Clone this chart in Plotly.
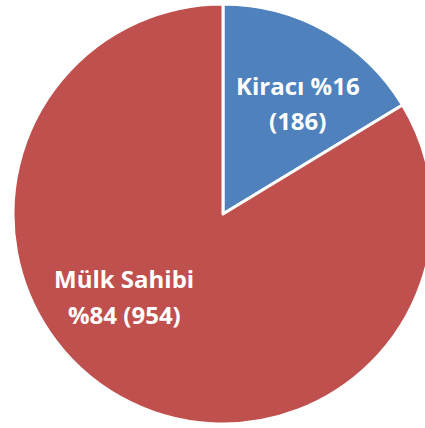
import plotly.graph_objects as go

# Housing tenure counts
labels = ["Kiracı", "Mülk Sahibi"]
values = [186, 954]
colors = ["#4F81BD", "#C0504D"]

total = sum(values)
pcts = [round(v / total * 100) for v in values]

W, H = 436, 428

fig = go.Figure(
    go.Pie(
        labels=labels,
        values=values,
        sort=False,
        direction="clockwise",
        rotation=0,
        marker=dict(colors=colors, line=dict(color="white", width=3)),
        textinfo="none",
        hoverinfo="label+value+percent",
        domain=dict(x=[13 / W, 433 / W], y=[4 / H, 424 / H]),
        showlegend=False,
    )
)

label_font = dict(family="Open Sans", size=24, color="white", weight="bold")

# slice labels, one annotation per line (x, y in pixels from top-left)
label_lines = [
    (f"{labels[0]} %{pcts[0]}", 298, 85),
    (f"({values[0]})", 297, 121),
    (f"{labels[1]}", 124, 278),
    (f"%{pcts[1]} ({values[1]})", 124, 314),
]
for txt, px, py in label_lines:
    fig.add_annotation(
        x=px / W, y=(H - py) / H, xref="paper", yref="paper",
        xanchor="center", yanchor="middle",
        text=txt, showarrow=False, font=label_font,
    )

fig.update_layout(
    width=W, height=H,
    margin=dict(l=0, r=0, t=0, b=0),
    paper_bgcolor="white",
    plot_bgcolor="white",
)

fig.write_html(
    "out.html",
    post_script="document.body.style.overflow='hidden';document.body.style.margin='0';",
)
